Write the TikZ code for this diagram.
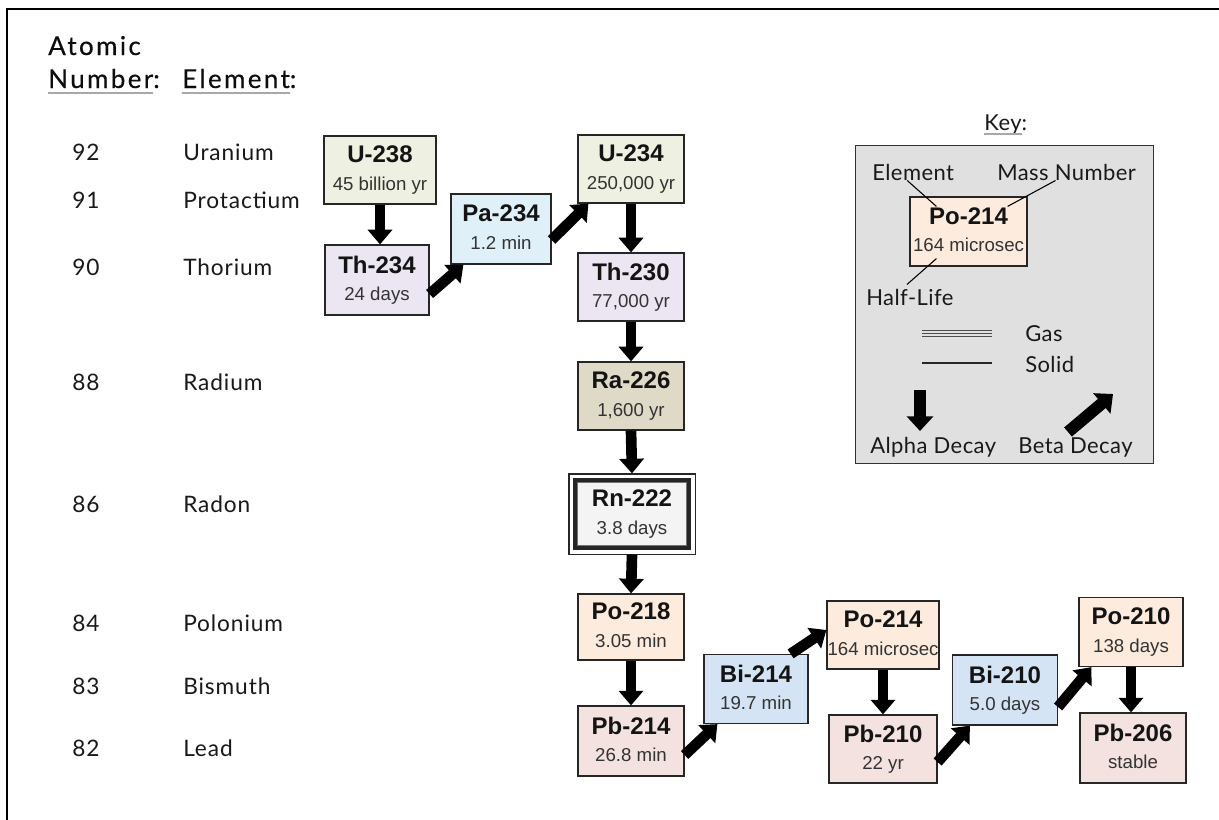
\documentclass[tikz,border=0pt]{standalone}
\usepackage{fontspec}
\setmainfont{Lato}
\newfontfamily\arial{Liberation Sans}
\newfontfamily\hdrfont[LetterSpace=9,FakeBold=0.4]{Lato}
\newfontfamily\rowfont[LetterSpace=4]{Lato}
\newfontfamily\keyfont[LetterSpace=2]{Lato}
\usetikzlibrary{arrows.meta,calc}
\definecolor{cU}{HTML}{EEF0E1}
\definecolor{cTh}{HTML}{ECE6F2}
\definecolor{cPa}{HTML}{DFF0F8}
\definecolor{cRa}{HTML}{DEDAC7}
\definecolor{cRn}{HTML}{F4F4F4}
\definecolor{cPo}{HTML}{FDEBDD}
\definecolor{cPb}{HTML}{F3E2E0}
\definecolor{cBi}{HTML}{D4E4F4}
\definecolor{cKey}{HTML}{E0E0E0}
\definecolor{cLine}{HTML}{A8A8A8}
\newcommand{\iso}[2]{{\fontsize{18}{20}\selectfont\bfseries #1}\\{\color{black!80}#2\vphantom{y}}}
\begin{document}
\begin{tikzpicture}[x=0.75pt,y=-0.75pt,
  sz/.style 2 args={minimum width=#1*0.75pt,minimum height=#2*0.75pt},
  iso/.style={draw=black!85,line width=0.9pt,inner sep=0pt,align=center,
    font=\arial\fontsize{14}{20.5}\selectfont,text=black!92},
  alpha/.style={draw=black,line width=8pt,-{Triangle[length=11pt,width=18pt]}},
  beta/.style={draw=black,line width=8pt,-{Triangle[length=11pt,width=18pt]}},
  kalpha/.style={draw=black,line width=9pt,-{Triangle[length=11pt,width=19.5pt]}},
  row/.style={font=\rowfont\fontsize{17}{20}\selectfont,text=black!90,inner sep=0pt},
  hdr/.style={font=\hdrfont\fontsize{19.5}{22}\selectfont,text=black!95,inner sep=0pt,anchor=base west},
  keyt/.style={font=\keyfont\fontsize{16.5}{18}\selectfont,text=black!90,inner sep=0pt,anchor=base west},
  uline/.style={draw=cLine,line width=1.3pt}]
\useasboundingbox (0,0) rectangle (1219,819);
\fill[white] (0,0) rectangle (1219,819);
\draw[line width=1.5pt] (7,9) rectangle (1240,840);

% headers
\node[hdr] (hAt) at (48,55) {Atomic};
\node[hdr] (hNum) at (48,88) {Number\rlap{:}};
\node[hdr] (hEl) at (182,88) {Element\rlap{:}};
\draw[uline] ($(hNum.base west)+(0,5)$) -- ($(hNum.base east)+(0,5)$);
\draw[uline] ($(hEl.base west)+(0,5)$) -- ($(hEl.base east)+(0,5)$);

% rows
\foreach \n/\e/\y [count=\i] in {92/Uranium/160,91/Protactium/208,90/Thorium/275,88/Radium/390,86/Radon/512,84/Polonium/631,83/Bismuth/694,82/Lead/756}{
  \node[row,anchor=base] (num\i) at (86,\y) {\n};
  \node[row,anchor=base west] (el\i) at (183,\y) {\e};
}

% isotope boxes
\node[iso,sz={112}{68},fill=cU] (u238) at (380,170) {\iso{U-238}{45 billion yr}};
\node[iso,sz={104}{70},fill=cTh] (th234) at (377,280) {\iso{Th-234}{24 days}};
\node[iso,sz={100}{70},fill=cPa] (pa234) at (501,229) {\iso{Pa-234}{1.2 min}};
\node[iso,sz={106}{68},fill=cU] (u234) at (631,169) {\iso{U-234}{250,000 yr}};
\node[iso,sz={106}{68},fill=cTh] (th230) at (631,287) {\iso{Th-230}{77,000 yr}};
\node[iso,sz={106}{68},fill=cRa] (ra226) at (631,396) {\iso{Ra-226}{1,600 yr}};
\node[iso,sz={114}{68},fill=cRn,line width=2.4pt] (rn222) at (632,514) {\iso{Rn-222}{3.8 days}};
\draw[line width=0.9pt,black!85] ($(rn222.north west)+(-4.5,-4.5)$) rectangle ($(rn222.south east)+(4.5,4.5)$);
\draw[line width=0.8pt,black!55] ($(rn222.north west)+(4.5,4.5)$) rectangle ($(rn222.south east)+(-4.5,-4.5)$);
\node[iso,sz={106}{66},fill=cPo] (po218) at (631,627) {\iso{Po-218}{3.05 min}};
\node[iso,sz={106}{70},fill=cPb] (pb214) at (631,741) {\iso{Pb-214}{26.8 min}};
\node[iso,sz={104}{69},fill=cBi] (bi214) at (756,689) {\iso{Bi-214}{19.7 min}};
\node[iso,sz={112}{68},fill=cPo] (po214) at (883,635) {\iso{Po-214}{164 microsec}};
\node[iso,sz={108}{68},fill=cPb] (pb210) at (883,749) {\iso{Pb-210}{22 yr}};
\node[iso,sz={105}{70},fill=cBi] (bi210) at (1005,690) {\iso{Bi-210}{5.0 days}};
\node[iso,sz={104}{69},fill=cPo] (po210) at (1131,632) {\iso{Po-210}{138 days}};
\node[iso,sz={106}{70},fill=cPb] (pb206) at (1133,748) {\iso{Pb-206}{stable}};

% alpha decays
\draw[alpha] (u238.south) -- (u238.south |- th234.north);
\draw[alpha] (u234.south) -- (th230.north);
\draw[alpha] (th230.south) -- (ra226.north);
\draw[alpha] (ra226.south) -- ($(rn222.north)+(0,-5)$);
\draw[alpha] ($(rn222.south)+(0,5)$) -- (po218.north);
\draw[alpha] (po218.south) -- (pb214.north);
\draw[alpha] (po214.south) -- (pb210.north);
\draw[alpha] (po210.south) -- (po210.south |- pb206.north);

% beta decays
\draw[beta] ($(th234.east)+(0,14)$) -- ($(pa234.south west)+(13,0)$);
\draw[beta] ($(pa234.east)+(0,11)$) -- ($(u234.south west)+(11,0)$);
\draw[beta] ($(pb214.east)+(0,14)$) -- ($(bi214.south west)+(14,0)$);
\draw[beta] ($(bi214.north east)+(-18,0)$) -- ($(po214.west)+(0,-5)$);
\draw[beta] ($(pb210.east)+(0,13)$) -- ($(bi210.south west)+(18,0)$);
\draw[beta] ($(bi210.east)+(0,17)$) -- ($(po210.south west)+(13,0)$);

% key
\node[keyt,anchor=base] (keyt) at (1003,130) {Key\rlap{:}};
\draw[uline] ($(keyt.base west)+(0,4)$) -- ($(keyt.base east)+(0,4)$);
\node[draw=black!80,line width=1pt,fill=cKey,anchor=north west,sz={298}{318},inner sep=0pt] (keybox) at (855,145) {};
\node[iso,sz={117}{69},fill=cPo] (keypo) at (968.5,231.5) {\iso{Po-214}{164 microsec}};
\node[keyt] (kel) at (872,180) {Element};
\node[keyt] (kmn) at (997,180) {Mass Number};
\node[keyt] (khl) at (866,305) {Half-Life};
\draw[line width=0.8pt] ($(kel.south)+(-6,0)$) -- ($(keypo.north west)+(27,10)$);
\draw[line width=0.8pt] ($(kmn.south)+(-11,0)$) -- ($(keypo.north east)+(-20,10)$);
\draw[line width=0.8pt] ($(keypo.south west)+(27,-8)$) -- ($(khl.north)+(-3,-4)$);
\coordinate (gasA) at (922,333.5);
\coordinate (gasB) at (992,333.5);
\foreach \d in {-3.2,0,3.2}
  \draw[line width=1.1pt,black!70] ($(gasA)+(0,\d)$) -- ($(gasB)+(0,\d)$);
\node[keyt] (kgas) at (1025,341) {Gas};
\coordinate (solA) at (922,363);
\coordinate (solB) at (992,363);
\draw[line width=1.1pt,black!85] (solA) -- (solB);
\node[keyt] (ksol) at (1025,372) {Solid};
\coordinate (kaA) at (920,390);
\coordinate (kaB) at (920,431);
\draw[kalpha] (kaA) -- (kaB);
\coordinate (kbA) at (1068,432);
\coordinate (kbB) at (1113,394);
\draw[kalpha] (kbA) -- (kbB);
\node[keyt] (kad) at (870,453) {Alpha Decay};
\node[keyt] (kbd) at (1018,453) {Beta Decay};
\end{tikzpicture}
\end{document}
